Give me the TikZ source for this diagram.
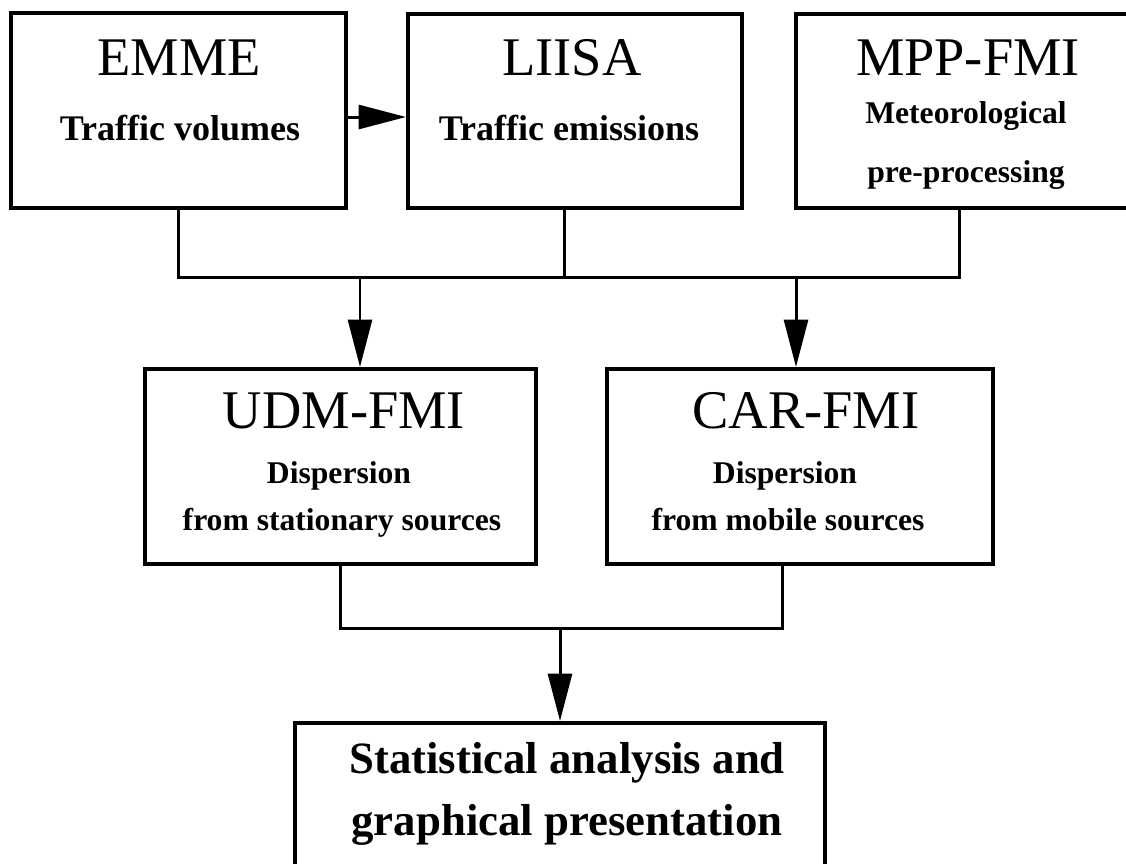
\documentclass[tikz,border=0pt]{standalone}
\usepackage{fontspec}
\setmainfont{Liberation Serif}
\usepackage{tikz}
\usetikzlibrary{arrows.meta,positioning}

\begin{document}
\begin{tikzpicture}[x=0.02cm, y=-0.02cm,
  box/.style={draw, line width=0.08cm, minimum height=3.9cm, inner sep=0pt},
  title/.style={anchor=base, font=\fontsize{31}{34}\selectfont},
  sub/.style={anchor=base, font=\bfseries\fontsize{20.5}{24}\selectfont},
  small/.style={anchor=base, font=\bfseries\fontsize{18}{22}\selectfont},
  big/.style={anchor=base, font=\bfseries\fontsize{25.5}{30}\selectfont},
  wire/.style={line width=0.06cm},
  arr/.style={wire, -{Triangle[length=0.95cm, width=0.48cm]}}]

\useasboundingbox (0,0) rectangle (1126,863);
\clip (0,0) rectangle (1126,863);

% top row
\node[box, minimum width=6.7cm] (emme) at (178.5,110.5) {};
\node[box, minimum width=6.68cm] (liisa) at (575,111) {};
\node[box, minimum width=6.88cm] (mpp) at (968,111) {};

\node[title] (emmet) at (179,75) {EMME};
\node[sub] (emmes) at (180,140) {Traffic volumes};
\node[title] (liisat) at (572,75) {LIISA};
\node[sub] (liisas) at (569,140) {Traffic emissions};
\node[title] (mppt) at (968,75) {MPP-FMI};
\node[small] (mpps1) at (966,123) {Meteorological};
\node[small] (mpps2) at (966,182) {pre-processing};

% middle row
\node[box, minimum width=7.82cm] (udm) at (340.5,466.5) {};
\node[box, minimum width=7.72cm] (car) at (800,466.5) {};

\node[title] (udmt) at (344,428) {UDM-FMI};
\node[small] (udms1) at (339,483) {Dispersion};
\node[small] (udms2) at (342,530) {from stationary sources};
\node[title] (cart) at (806,428) {CAR-FMI};
\node[small] (cars1) at (785,483) {Dispersion};
\node[small] (cars2) at (788,530) {from mobile sources};

% bottom
\node[box, minimum width=10.6cm, minimum height=3.54cm] (stat) at (560,811.5) {};
\node[big] (stat1) at (567,773) {Statistical analysis and};
\node[big] (stat2) at (567,835) {graphical presentation};

% connectors
\coordinate (bus1) at (0,277);
\coordinate (bus2) at (0,628);
\coordinate (liisaout) at ([xshift=-0.22cm]liisa.south);
\coordinate (mppout) at ([xshift=-0.18cm]mpp.south);
\coordinate (udmin) at ([xshift=0.39cm]udm.north);
\coordinate (carin) at ([xshift=-0.08cm]car.north);
\coordinate (carout) at ([xshift=-0.36cm]car.south);

\draw[arr] ([yshift=-0.13cm]emme.east) -- ([yshift=-0.13cm]emme.east -| liisa.west);

\draw[wire] (emme.south) -- (emme.south |- bus1) -- (mppout |- bus1) -- (mppout);
\draw[wire] (liisaout) -- (liisaout |- bus1);
\draw[arr] (udmin |- bus1) -- (udmin);
\draw[arr] (carin |- bus1) -- (carin);

\draw[wire] (udm.south) -- (udm.south |- bus2) -- (carout |- bus2) -- (carout);
\draw[arr] (stat.north |- bus2) -- (stat.north);

\end{tikzpicture}
\end{document}
